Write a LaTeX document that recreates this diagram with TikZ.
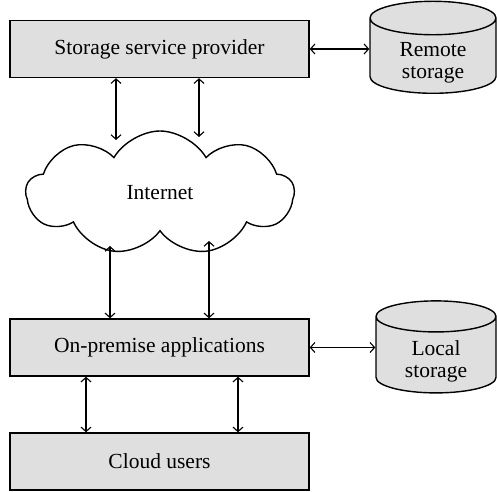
\documentclass[tikz,border=0pt]{standalone}
\usepackage{fontspec}
\setmainfont{Liberation Serif}
\usetikzlibrary{shapes.geometric,shapes.symbols,arrows.meta}
\newcommand{\storelabel}[1]{\raisebox{-12pt}[0pt][0pt]{\begin{tabular}{@{}c@{}}#1\end{tabular}}}
\tikzset{
    box/.style={draw, line width=1.4pt, fill=gray!25, minimum width=299pt, minimum height=57pt, inner sep=0pt},
    store/.style={draw, line width=1.4pt, fill=gray!25, cylinder, shape border rotate=90, aspect=0.5,
        minimum height=92pt, inner sep=0pt},
    link/.style={{Straight Barb[length=4.5pt,width=10pt]}-{Straight Barb[length=4.5pt,width=10pt]}, line width=1.1pt}
}
\begin{document}
\begin{tikzpicture}[x=1pt, y=1pt, font=\fontsize{21.5}{22.5}\selectfont]
     \useasboundingbox (0,0) rectangle (497,491);

     \node (spp) at (159.5,442) [box] {Storage service provider};
     \node (remote) at (433,435) [store, minimum width=126pt] {\storelabel{Remote\\storage}};
     \node (net) at (160,298) [draw, line width=1.4pt, cloud, cloud puffs=9, cloud puff arc=120,
         aspect=2.1, minimum width=268pt, minimum height=124pt, inner sep=0pt] {Internet};
     \node (onp) at (159.5,143.5) [box] {On-premise applications};
     \node (local) at (436,136) [store, minimum width=120pt] {\storelabel{Local\\storage}};
     \node (users) at (159.5,29.5) [box] {Cloud users};

     \coordinate (n1) at (116,351);
     \coordinate (n2) at (199,354);
     \coordinate (n3) at (110,245);
     \coordinate (n4) at (209,250);
     \coordinate (u1) at (86,0);
     \coordinate (u2) at (238,0);

     \draw [link] (spp.east) -- (spp.east -| remote.west);
     \draw [link] (spp.south -| n1) -- (n1);
     \draw [link] (spp.south -| n2) -- (n2);
     \draw [link] (n3) -- (onp.north -| n3);
     \draw [link] (n4) -- (onp.north -| n4);
     \draw [link] (onp.east) -- (onp.east -| local.west);
     \draw [link] (onp.south -| u1) -- (users.north -| u1);
     \draw [link] (onp.south -| u2) -- (users.north -| u2);
\end{tikzpicture}
\end{document}
